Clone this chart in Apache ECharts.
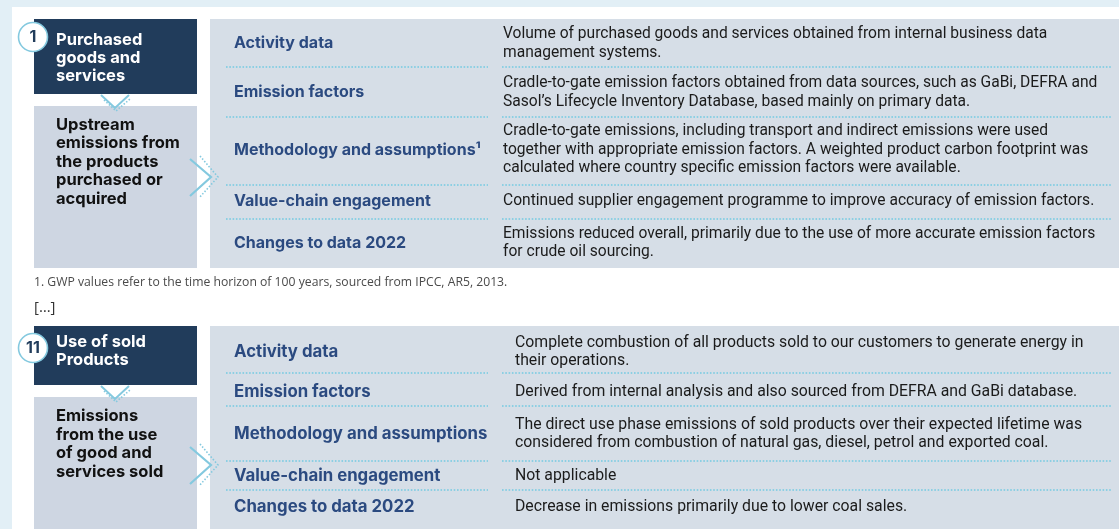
<!DOCTYPE html>
<html>
<head>
<meta charset="utf-8">
<script src="https://cdn.jsdelivr.net/npm/echarts@6/dist/echarts.min.js"></script>
<style>
html,body{margin:0;padding:0;background:#e2eff6;}
#main{width:1119px;height:529px;}
</style>
</head>
<body>
<div id="main"></div>
<script>
// ---------- content ----------
const block1Number = '1';
const block1Title = ['Purchased', 'goods and', 'services'];
const block1Scope = ['Upstream', 'emissions from', 'the products', 'purchased or', 'acquired'];
const block1Labels = ['Activity data', 'Emission factors', 'Methodology and assumptions\u00b9', 'Value-chain engagement', 'Changes to data 2022'];
const block1Texts = [
  ['Volume of purchased goods and services obtained from internal business data', 'management systems.'],
  ['Cradle-to-gate emission factors obtained from data sources, such as GaBi, DEFRA and', 'Sasol\u2019s Lifecycle Inventory Database, based mainly on primary data.'],
  ['Cradle-to-gate emissions, including transport and indirect emissions were used', 'together with appropriate emission factors. A weighted product carbon footprint was', 'calculated where country specific emission factors were available.'],
  ['Continued supplier engagement programme to improve accuracy of emission factors.'],
  ['Emissions reduced overall, primarily due to the use of more accurate emission factors', 'for crude oil sourcing.']
];
const footnoteText = '1. GWP values refer to the time horizon of 100 years, sourced from IPCC, AR5, 2013.';
const gapText = '[\u2026]';

const block11Number = '11';
const block11Title = ['Use of sold', 'Products'];
const block11Scope = ['Emissions', 'from the use', 'of good and', 'services sold'];
const block11Labels = ['Activity data', 'Emission factors', 'Methodology and assumptions', 'Value-chain engagement', 'Changes to data 2022'];
const block11Texts = [
  ['Complete combustion of all products sold to our customers to generate energy in', 'their operations.'],
  ['Derived from internal analysis and also sourced from DEFRA and GaBi database.'],
  ['The direct use phase emissions of sold products over their expected lifetime was', 'considered from combustion of natural gas, diesel, petrol and exported coal.'],
  ['Not applicable'],
  ['Decrease in emissions primarily due to lower coal sales.']
];

// ---------- layout ----------
const C = {
  navy: '#213c5b', label: '#2b4a80', leftGray: '#ced6e2', panel: '#d6dee7',
  dot: '#8ccfe3', chevron: '#84c9df', text: '#1b1b1b'
};
const LABEL_FONT = 'Inter, "DejaVu Sans", sans-serif';
const BODY_FONT = 'Roboto, "Liberation Sans", sans-serif';

const layouts = [
  {
    number: block1Number, title: block1Title, scope: block1Scope, labels: block1Labels, texts: block1Texts,
    top: 19, navyBottom: 94, grayTop: 106, bottom: 268, circleY: 37,
    titleY: 40, scopeY: 125,
    rowY: [43.5, 92.5, 150, 201.5, 243], sepY: [67, 117, 185, 219],
    chevronY: 177, labelSize: 16.0, bodySize: 15.6, bodyX: 503
  },
  {
    number: block11Number, title: block11Title, scope: block11Scope, labels: block11Labels, texts: block11Texts,
    top: 326, navyBottom: 385, grayTop: 397, bottom: 540, circleY: 348,
    titleY: 342, scopeY: 416.5,
    rowY: [352, 392, 434, 476, 507], sepY: [373, 406, 461, 490],
    chevronY: 465, labelSize: 16.8, bodySize: 15.8, bodyX: 515
  }
];

const graphics = [];
graphics.push({type: 'rect', shape: {x: 12, y: 7, width: 1107, height: 522}, style: {fill: '#ffffff'}});

function text(x, y, str, opt) {
  graphics.push({
    type: 'text', x: x, y: y, z: 10,
    style: Object.assign({
      text: str, fill: C.text, align: 'left', verticalAlign: 'middle',
      fontFamily: BODY_FONT, fontSize: 14, fontWeight: 'normal'
    }, opt)
  });
}

layouts.forEach(function (L) {
  // navy title box
  graphics.push({type: 'rect', shape: {x: 34, y: L.top, width: 163, height: L.navyBottom - L.top}, style: {fill: C.navy}});
  // left gray scope box
  graphics.push({type: 'rect', shape: {x: 34, y: L.grayTop, width: 163, height: L.bottom - L.grayTop}, style: {fill: C.leftGray}});
  // right panel
  graphics.push({type: 'rect', shape: {x: 210, y: L.top, width: 909, height: L.bottom - L.top}, style: {fill: C.panel}});
  // number circle
  graphics.push({type: 'circle', z: 5, shape: {cx: 33, cy: L.circleY, r: 14.5}, style: {fill: '#ffffff', stroke: C.chevron, lineWidth: 1.6}});
  text(33, L.circleY + 0.5, L.number, {align: 'center', fill: C.navy, fontFamily: LABEL_FONT, fontWeight: 'bold', fontSize: 16});
  // title
  text(56, L.titleY + (L.title.length - 1) * 9, L.title.join('\n'), {fill: '#ffffff', fontFamily: LABEL_FONT, fontWeight: 'bold', fontSize: 16.5, lineHeight: 18});
  // scope text
  text(56, L.scopeY + (L.scope.length - 1) * 9.25, L.scope.join('\n'), {fill: '#111111', fontFamily: LABEL_FONT, fontWeight: 'bold', fontSize: 16.5, lineHeight: 18.5});
  // down chevron
  const dy = L.navyBottom;
  graphics.push({type: 'polyline', z: 6, shape: {points: [[101, dy + 1], [115, dy + 14], [129, dy + 1]]}, style: {stroke: C.chevron, lineWidth: 2, fill: null}});
  graphics.push({type: 'polyline', z: 6, shape: {points: [[104, dy + 6], [116, dy + 17], [130, dy + 5]]}, style: {stroke: C.chevron, lineWidth: 1.6, lineDash: [1.5, 1.8], fill: null}});
  // right chevron
  const cy = L.chevronY;
  graphics.push({type: 'polyline', z: 6, shape: {points: [[190, cy - 18], [211, cy], [190, cy + 19]]}, style: {stroke: C.chevron, lineWidth: 2.2, fill: null}});
  graphics.push({type: 'polyline', z: 6, shape: {points: [[200, cy - 21], [218, cy], [199, cy + 21]]}, style: {stroke: C.chevron, lineWidth: 1.6, lineDash: [1.5, 1.8], fill: null}});
  // separators
  L.sepY.forEach(function (y) {
    graphics.push({type: 'line', z: 4, shape: {x1: 226, y1: y, x2: 488, y2: y}, style: {stroke: C.dot, lineWidth: 1.8, lineDash: [1.6, 1.7]}});
    graphics.push({type: 'line', z: 4, shape: {x1: 502, y1: y, x2: 1112, y2: y}, style: {stroke: C.dot, lineWidth: 1.8, lineDash: [1.6, 1.7]}});
  });
  // rows
  L.labels.forEach(function (lab, i) {
    text(234, L.rowY[i], lab, {fill: C.label, fontFamily: LABEL_FONT, fontWeight: 'bold', fontSize: L.labelSize});
    text(L.bodyX, L.rowY[i], L.texts[i].join('\n'), {fill: C.text, fontFamily: BODY_FONT, fontSize: L.bodySize, lineHeight: 18.5});
  });
});

text(34, 283, footnoteText, {fill: '#4a4a4a', fontFamily: '"Open Sans", sans-serif', fontSize: 12.2});
text(34, 308, gapText, {fill: '#333333', fontFamily: '"Open Sans", sans-serif', fontSize: 15});

const chart = echarts.init(document.getElementById('main'), null, {renderer: 'canvas'});
chart.setOption({
  backgroundColor: '#e2eff6',
  animation: false,
  graphic: {elements: graphics}
});
</script>
</body>
</html>
